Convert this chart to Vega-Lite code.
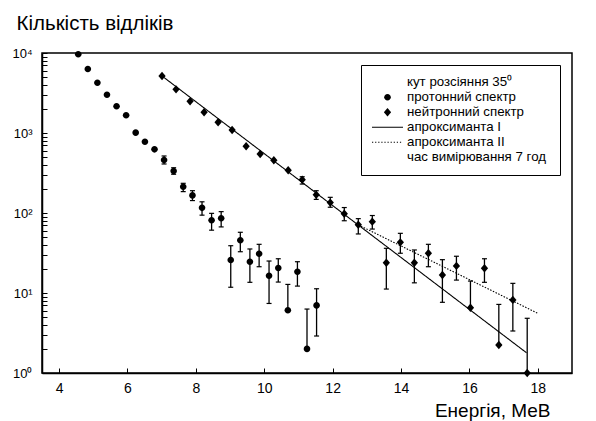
{
  "$schema": "https://vega.github.io/schema/vega-lite/v6.json",
  "autosize": {"type": "none"},
  "width": 530,
  "height": 320,
  "padding": {"left": 42, "top": 53, "right": 24, "bottom": 48},
  "background": "white",
  "config": {
    "view": {"stroke": "black", "strokeWidth": 1.5},
    "font": "Liberation Sans",
    "axis": {
      "grid": false,
      "labelOverlap": false,
      "labelFlush": false
    }
  },
  "datasets": {
    "pts": [
      {"s": "протонний спектр", "E": 4.56, "v": 9630},
      {"s": "протонний спектр", "E": 4.84, "v": 6310},
      {"s": "протонний спектр", "E": 5.12, "v": 4250},
      {"s": "протонний спектр", "E": 5.40, "v": 3010},
      {"s": "протонний спектр", "E": 5.68, "v": 2160},
      {"s": "протонний спектр", "E": 5.96, "v": 1665},
      {"s": "протонний спектр", "E": 6.24, "v": 1010},
      {"s": "протонний спектр", "E": 6.51, "v": 778},
      {"s": "протонний спектр", "E": 6.79, "v": 625},
      {"s": "протонний спектр", "E": 7.07, "v": 460, "lo": 410, "hi": 516},
      {"s": "протонний спектр", "E": 7.35, "v": 335, "lo": 305, "hi": 368},
      {"s": "протонний спектр", "E": 7.63, "v": 213, "lo": 185, "hi": 235},
      {"s": "протонний спектр", "E": 7.90, "v": 166, "lo": 143, "hi": 190},
      {"s": "протонний спектр", "E": 8.18, "v": 116, "lo": 94, "hi": 138},
      {"s": "протонний спектр", "E": 8.46, "v": 81, "lo": 61, "hi": 99},
      {"s": "протонний спектр", "E": 8.74, "v": 86, "lo": 67, "hi": 104},
      {"s": "протонний спектр", "E": 9.02, "v": 25.8, "lo": 11.8, "hi": 39.0},
      {"s": "протонний спектр", "E": 9.30, "v": 45.6, "lo": 32.8, "hi": 57.4},
      {"s": "протонний спектр", "E": 9.58, "v": 24.6, "lo": 13.6, "hi": 35.5},
      {"s": "протонний спектр", "E": 9.85, "v": 31.0, "lo": 21.3, "hi": 40.6},
      {"s": "протонний спектр", "E": 10.14, "v": 16.4, "lo": 7.4, "hi": 25.1},
      {"s": "протонний спектр", "E": 10.41, "v": 20.5, "lo": 13.7, "hi": 26.8},
      {"s": "протонний спектр", "E": 10.69, "v": 6.08, "lo": 6.08, "hi": 12.8},
      {"s": "протонний спектр", "E": 10.97, "v": 18.4, "lo": 12.2, "hi": 24.6},
      {"s": "протонний спектр", "E": 11.25, "v": 2.0, "lo": 2.0, "hi": 6.3},
      {"s": "протонний спектр", "E": 11.53, "v": 7.0, "lo": 2.9, "hi": 11.3},
      {"s": "нейтронний спектр", "E": 7.01, "v": 5158},
      {"s": "нейтронний спектр", "E": 7.42, "v": 3516},
      {"s": "нейтронний спектр", "E": 7.83, "v": 2489},
      {"s": "нейтронний спектр", "E": 8.24, "v": 1814},
      {"s": "нейтронний спектр", "E": 8.65, "v": 1361},
      {"s": "нейтронний спектр", "E": 9.06, "v": 1090},
      {"s": "нейтронний спектр", "E": 9.47, "v": 682},
      {"s": "нейтронний спектр", "E": 9.88, "v": 546},
      {"s": "нейтронний спектр", "E": 10.28, "v": 456},
      {"s": "нейтронний спектр", "E": 10.70, "v": 342},
      {"s": "нейтронний спектр", "E": 11.11, "v": 261, "lo": 230, "hi": 284},
      {"s": "нейтронний спектр", "E": 11.52, "v": 169, "lo": 148, "hi": 190},
      {"s": "нейтронний спектр", "E": 11.93, "v": 135, "lo": 118, "hi": 157},
      {"s": "нейтронний спектр", "E": 12.34, "v": 98, "lo": 80, "hi": 117},
      {"s": "нейтронний спектр", "E": 12.75, "v": 71.4, "lo": 54.7, "hi": 85},
      {"s": "нейтронний спектр", "E": 13.16, "v": 77.9, "lo": 63, "hi": 93},
      {"s": "нейтронний спектр", "E": 13.57, "v": 23.9, "lo": 11.2, "hi": 36.2},
      {"s": "нейтронний спектр", "E": 13.98, "v": 43.0, "lo": 31.4, "hi": 55.7},
      {"s": "нейтронний спектр", "E": 14.39, "v": 23.9, "lo": 13.4, "hi": 34.5},
      {"s": "нейтронний спектр", "E": 14.80, "v": 31.4, "lo": 21.3, "hi": 40.6},
      {"s": "нейтронний спектр", "E": 15.21, "v": 16.8, "lo": 7.65, "hi": 26.1},
      {"s": "нейтронний спектр", "E": 15.62, "v": 21.8, "lo": 14.5, "hi": 28.8},
      {"s": "нейтронний спектр", "E": 16.03, "v": 6.55, "lo": 6.55, "hi": 14.1},
      {"s": "нейтронний спектр", "E": 16.44, "v": 20.4, "lo": 13.6, "hi": 26.8},
      {"s": "нейтронний спектр", "E": 16.86, "v": 2.24, "lo": 2.24, "hi": 7.2},
      {"s": "нейтронний спектр", "E": 17.27, "v": 8.2, "lo": 3.35, "hi": 13.2},
      {"s": "нейтронний спектр", "E": 17.69, "v": 1.0, "lo": 1.0, "hi": 4.83}
    ],
    "fits": [
      {"s": "апроксиманта I", "E": 7.01, "v": 5158},
      {"s": "апроксиманта I", "E": 17.67, "v": 1.79},
      {"s": "апроксиманта II", "E": 12.75, "v": 71},
      {"s": "апроксиманта II", "E": 18.0, "v": 5.57}
    ]
  },
  "layer": [
    {
      "data": {"name": "pts"},
      "mark": {"type": "point", "filled": true, "color": "black", "size": 961, "opacity": 1},
      "encoding": {
        "x": {
          "field": "E", "type": "quantitative",
          "scale": {"domain": [3.5, 19], "nice": false, "zero": false},
          "axis": {
            "orient": "bottom",
            "domainColor": "black", "domainWidth": 1.5,
            "tickColor": "black", "tickWidth": 1, "tickSize": -5,
            "values": [4,4.5,5,5.5,6,6.5,7,7.5,8,8.5,9,9.5,10,10.5,11,11.5,12,12.5,13,13.5,14,14.5,15,15.5,16,16.5,17,17.5,18,18.5,19],
            "labelExpr": "datum.value % 1 == 0 ? format(datum.value, 'd') : ''",
            "labelPadding": 13,
            "labelFontSize": 14,
            "labelColor": "black",
            "labelFont": "Liberation Sans",
            "title": "Енергія, МеВ",
            "titleFont": "Liberation Sans",
            "titleFontWeight": "normal",
            "titleColor": "black",
            "titleFontSize": 19,
            "titleAlign": "right",
            "titleBaseline": "alphabetic",
            "titleAnchor": "end",
            "titleX": 508,
            "titleY": 43
          }
        },
        "y": {
          "field": "v", "type": "quantitative",
          "scale": {"type": "log", "domain": [1, 10000], "nice": false},
          "axis": {
            "orient": "left",
            "domainColor": "black", "domainWidth": 1.5,
            "tickColor": "black", "tickWidth": 1, "tickSize": -5,
            "values": [1,2,3,4,5,6,7,8,9,10,20,30,40,50,60,70,80,90,100,200,300,400,500,600,700,800,900,1000,2000,3000,4000,5000,6000,7000,8000,9000,10000],
            "labelExpr": "datum.value == 1 ? '10⁰' : datum.value == 10 ? '10¹' : datum.value == 100 ? '10²' : datum.value == 1000 ? '10³' : datum.value == 10000 ? '10⁴' : ''",
            "labelPadding": 15,
            "labelFontSize": 13,
            "labelColor": "black",
            "labelFont": "Liberation Sans",
            "title": "Кількість відліків",
            "titleFont": "Liberation Sans",
            "titleFontWeight": "normal",
            "titleColor": "black",
            "titleFontSize": 20.5,
            "titleAngle": 0,
            "titleAlign": "left",
            "titleBaseline": "alphabetic",
            "titleX": -26,
            "titleY": -24
          }
        },
        "shape": {
          "field": "s", "type": "nominal",
          "scale": {
            "domain": ["кут розсіяння 35⁰", "протонний спектр", "нейтронний спектр", "апроксиманта I", "апроксиманта II", "час вимірювання  7 год"],
            "range": [
              "M0,0",
              "M-0.213,0A0.213,0.213,0,1,0,0.213,0A0.213,0.213,0,1,0,-0.213,0Z",
              "M0,-0.27L0.235,0L0,0.27L-0.235,0Z",
              "M-1,-0.036L1,-0.036L1,0.036L-1,0.036Z",
              "M-1,-0.033H-0.92V0.033H-1ZM-0.8,-0.033H-0.72V0.033H-0.8ZM-0.6,-0.033H-0.52V0.033H-0.6ZM-0.4,-0.033H-0.32V0.033H-0.4ZM-0.2,-0.033H-0.12V0.033H-0.2ZM0,-0.033H0.08V0.033H0ZM0.2,-0.033H0.28V0.033H0.2ZM0.4,-0.033H0.48V0.033H0.4ZM0.6,-0.033H0.68V0.033H0.6ZM0.8,-0.033H0.88V0.033H0.8Z",
              "M0,0"
            ]
          },
          "legend": {
            "title": null,
            "orient": "top-right",
            "offset": 12,
            "strokeColor": "black",
            "padding": 10,
            "labelFont": "Liberation Sans",
            "labelFontSize": 13.3,
            "labelColor": "black",
            "labelOffset": 3,
            "rowPadding": 0,
            "clipHeight": 14.6,
            "symbolSize": 961,
            "symbolFillColor": "black",
            "symbolOpacity": 1
          }
        }
      }
    },
    {
      "data": {"name": "pts"},
      "transform": [{"filter": "isValid(datum.lo)"}],
      "mark": {"type": "rule", "color": "black", "strokeWidth": 1.3},
      "encoding": {
        "x": {"field": "E", "type": "quantitative", "scale": {"domain": [3.5, 19], "nice": false, "zero": false}},
        "y": {"field": "lo", "type": "quantitative", "scale": {"type": "log", "domain": [1, 10000], "nice": false}},
        "y2": {"field": "hi"}
      }
    },
    {
      "data": {"name": "pts"},
      "transform": [{"filter": "isValid(datum.lo)"}],
      "mark": {"type": "tick", "orient": "horizontal", "color": "black", "size": 5, "thickness": 1.2, "opacity": 1},
      "encoding": {
        "x": {"field": "E", "type": "quantitative", "scale": {"domain": [3.5, 19], "nice": false, "zero": false}},
        "y": {"field": "lo", "type": "quantitative", "scale": {"type": "log", "domain": [1, 10000], "nice": false}}
      }
    },
    {
      "data": {"name": "pts"},
      "transform": [{"filter": "isValid(datum.hi)"}],
      "mark": {"type": "tick", "orient": "horizontal", "color": "black", "size": 5, "thickness": 1.2, "opacity": 1},
      "encoding": {
        "x": {"field": "E", "type": "quantitative", "scale": {"domain": [3.5, 19], "nice": false, "zero": false}},
        "y": {"field": "hi", "type": "quantitative", "scale": {"type": "log", "domain": [1, 10000], "nice": false}}
      }
    },
    {
      "data": {"name": "fits"},
      "mark": {"type": "line", "color": "black", "strokeWidth": 1.1},
      "encoding": {
        "x": {"field": "E", "type": "quantitative", "scale": {"domain": [3.5, 19], "nice": false, "zero": false}},
        "y": {"field": "v", "type": "quantitative", "scale": {"type": "log", "domain": [1, 10000], "nice": false}},
        "detail": {"field": "s", "type": "nominal"},
        "strokeDash": {
          "field": "s", "type": "nominal",
          "scale": {"domain": ["апроксиманта I", "апроксиманта II"], "range": [[1, 0], [1.5, 1.5]]},
          "legend": null
        }
      }
    }
  ]
}
